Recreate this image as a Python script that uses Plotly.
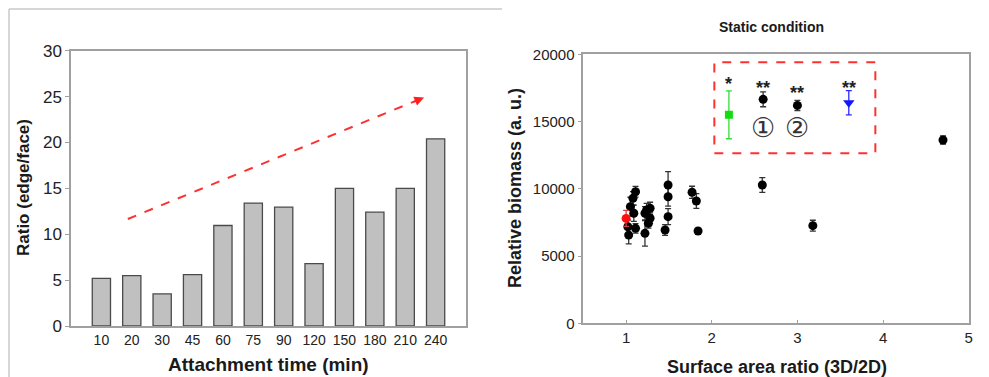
import plotly.graph_objects as go

# ---------------- data ----------------
times = ["10", "20", "30", "45", "60", "75", "90", "120", "150", "180", "210", "240"]
ratio = [5.2, 5.5, 3.5, 5.6, 10.95, 13.4, 12.95, 6.8, 15.0, 12.4, 15.0, 20.4]

# scatter (static condition) - black points
bx = [1.03, 1.02, 1.05, 1.08, 1.11, 1.09, 1.11, 1.22, 1.24, 1.28, 1.28, 1.26, 1.22,
      1.49, 1.49, 1.49, 1.455, 1.77, 1.82, 1.84, 2.59, 3.18, 4.70]
by = [6560, 7180, 8670, 9290, 9780, 8180, 7060, 6690, 8420, 8550, 7810, 7430, 8180,
      10280, 9410, 7930, 6940, 9740, 9090, 6860, 10280, 7260, 13630]
be = [650, 500, 700, 500, 400, 600, 350, 950, 500, 450, 400, 350, 500,
      1000, 700, 600, 400, 450, 550, 200, 550, 400, 300]

red_x, red_y, red_e = [1.0], [7800], [600]
box_bx = [2.6, 3.0]
box_by = [16650, 16200]
box_be = [550, 380]
green_x, green_y, green_e = [2.2], [15500], [1780]
blue_x, blue_y, blue_e = [3.6], [16400], [900]

stars = ["*", "**", "**", "**"]
star_x = [2.2, 2.6, 3.0, 3.6]
star_y = [18160, 17900, 17490, 17900]
circ_lbl = ["①", "②"]
circ_x = [2.6, 3.0]
circ_y = [14540, 14540]

# trend arrow (data coords on left chart)
arrow_start = (0.87, 11.66)
arrow_end = (10.62, 24.9)
# highlighted region (right chart)
hl_x = (2.03, 3.91)
hl_y = (12640, 19400)

FONT = "Liberation Sans, Arial, sans-serif"
FRAME = "#a0a0a0"
W, H = 989, 377

fig = go.Figure()

fig.add_trace(go.Bar(
    x=list(range(len(times))), y=ratio, width=0.6,
    marker=dict(color="#c0c0c0", line=dict(color="#4a4a4a", width=1.3)),
    xaxis="x", yaxis="y", showlegend=False))

err_common = dict(type="data", thickness=1.3, width=3)

fig.add_trace(go.Scatter(
    x=bx + box_bx, y=by + box_by, mode="markers",
    marker=dict(color="black", size=9, symbol="circle"),
    error_y=dict(array=be + box_be, color="#333333", **err_common),
    xaxis="x2", yaxis="y2", showlegend=False))
fig.add_trace(go.Scatter(
    x=red_x, y=red_y, mode="markers",
    marker=dict(color="#ff1010", size=9, symbol="circle"),
    error_y=dict(array=red_e, color="#d04040", **err_common),
    xaxis="x2", yaxis="y2", showlegend=False))
fig.add_trace(go.Scatter(
    x=green_x, y=green_y, mode="markers",
    marker=dict(color="#11dd11", size=8, symbol="square"),
    error_y=dict(array=green_e, color="#33dd33", **err_common),
    xaxis="x2", yaxis="y2", showlegend=False))
fig.add_trace(go.Scatter(
    x=blue_x, y=blue_y, mode="markers",
    marker=dict(color="#1515ff", size=10, symbol="triangle-down"),
    error_y=dict(array=blue_e, color="#2a2aff", **err_common),
    xaxis="x2", yaxis="y2", showlegend=False))

axis_common = dict(showgrid=False, zeroline=False, showline=True, linecolor=FRAME,
                   linewidth=1.5, mirror=True, automargin=False,
                   tickfont=dict(family=FONT, size=15, color="#222"))

fig.update_layout(
    width=W, height=H,
    margin=dict(l=0, r=0, t=0, b=0, pad=0, autoexpand=False),
    paper_bgcolor="white", plot_bgcolor="white",
    font=dict(family=FONT, color="#222"),
    xaxis=dict(domain=[71/W, 466/W], range=[-1, 12], tickmode="array",
               tickvals=list(range(len(times))), ticktext=times, ticks="",
               anchor="y", **{**axis_common, "tickfont": dict(family=FONT, size=14, color="#222")}),
    yaxis=dict(domain=[1-326/H, 1-50.7/H], range=[0, 30], dtick=5,
               ticks="outside", ticklen=4, tickcolor=FRAME, anchor="x",
               **{**axis_common, "tickfont": dict(family=FONT, size=17, color="#222")}),
    xaxis2=dict(domain=[583.3/W, 968.7/W], range=[0.5, 5], dtick=1,
                ticks="inside", ticklen=4, tickcolor=FRAME, anchor="y2", **axis_common),
    yaxis2=dict(domain=[1-323.3/H, 1-54.3/H], range=[0, 20000], dtick=5000, tickformat="d",
                ticks="outside", ticklen=4, tickcolor=FRAME, anchor="x2", **axis_common),
)

shapes = [
    # outer panel frame (left image)
    dict(type="line", xref="paper", yref="paper", x0=9/W, x1=502/W, y0=1-9/H, y1=1-9/H,
         line=dict(color="#c8c8c8", width=1.5)),
    dict(type="line", xref="paper", yref="paper", x0=9/W, x1=9/W, y0=0, y1=1-9/H,
         line=dict(color="#c8c8c8", width=1.5)),
    # dashed trend arrow
    dict(type="line", xref="x", yref="y", x0=arrow_start[0], y0=arrow_start[1],
         x1=arrow_end[0] - 0.15, y1=arrow_end[1] - 0.2,
         line=dict(color="#ff3030", width=2, dash="dash")),
    # highlighted rectangle
    dict(type="rect", xref="x2", yref="y2", x0=hl_x[0], x1=hl_x[1], y0=hl_y[0], y1=hl_y[1],
         line=dict(color="#ff3030", width=2, dash="dash")),
]
fig.update_layout(shapes=shapes)

ann = [
    dict(xref="x", yref="y", x=arrow_end[0], y=arrow_end[1], ax=arrow_end[0] - 0.4,
         ay=arrow_end[1] - 0.55, axref="x", ayref="y", showarrow=True, arrowhead=2,
         arrowsize=1.2, arrowwidth=1.6, arrowcolor="#ff2020", text=""),
    dict(xref="paper", yref="paper", x=24/W, y=1-188/H, xanchor="center", yanchor="middle",
         text="<b>Ratio (edge/face)</b>",
         textangle=-90, showarrow=False, font=dict(family=FONT, size=17, color="#1a1a1a")),
    dict(xref="paper", yref="paper", x=268/W, y=0, xanchor="center", yanchor="bottom",
         text="<b>Attachment time (min)</b>", showarrow=False,
         font=dict(family=FONT, size=19, color="#1a1a1a")),
    dict(xref="paper", yref="paper", x=771/W, y=1-27/H, xanchor="center", yanchor="middle",
         text="<b>Static condition</b>",
         showarrow=False, font=dict(family=FONT, size=14, color="#1a1a1a")),
    dict(xref="paper", yref="paper", x=515/W, y=1-188/H, xanchor="center", yanchor="middle",
         text="<b>Relative biomass (a. u.)</b>",
         textangle=-90, showarrow=False, font=dict(family=FONT, size=18, color="#1a1a1a")),
    dict(xref="paper", yref="paper", x=777/W, y=1-367/H, xanchor="center", yanchor="middle",
         text="<b>Surface area ratio (3D/2D)</b>", showarrow=False,
         font=dict(family=FONT, size=18, color="#1a1a1a")),
]
for s, sx, sy in zip(stars, star_x, star_y):
    ann.append(dict(xref="x2", yref="y2", x=sx, y=sy, text="<b>" + s + "</b>", showarrow=False,
                    xanchor="center", yanchor="middle",
                    yshift=-5, font=dict(family=FONT, size=18, color="#222")))
for c, cx, cy in zip(circ_lbl, circ_x, circ_y):
    ann.append(dict(xref="x2", yref="y2", x=cx, y=cy, text=c, showarrow=False,
                    xanchor="center", yanchor="middle",
                    font=dict(family="DejaVu Sans", size=27, color="#333")))
fig.update_layout(annotations=ann)

fig.write_html("out.html", config={"displayModeBar": False},
               post_script="document.body.style.margin='0';document.body.style.padding='0';")
